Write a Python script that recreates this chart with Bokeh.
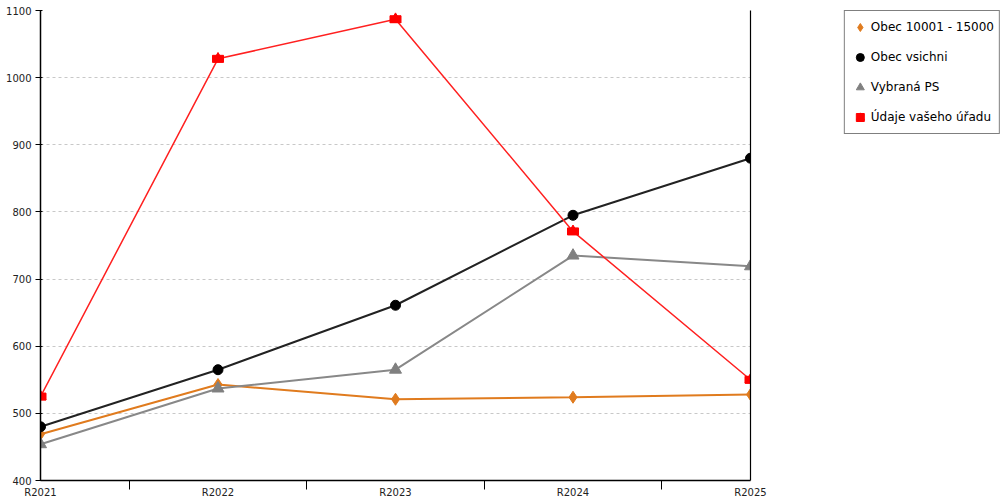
from bokeh.plotting import figure
from bokeh.layouts import row
from bokeh.models import (FixedTicker, LinearAxis, Legend, LegendItem, ColumnDataSource, Range1d)
from bokeh.embed import file_html
from bokeh.resources import INLINE

categories = ["R2021", "R2022", "R2023", "R2024", "R2025"]
obec_10001_15000 = [469, 543, 521, 524, 528]
obec_vsichni = [480, 565, 661, 795, 880]
vybrana_ps = [454, 537, 565, 735, 719]
udaje_uradu = [525, 1028, 1087, 771, 550]
y_ticks = [400, 500, 600, 700, 800, 900, 1000, 1100]
labels = ["Obec 10001 - 15000", "Obec vsichni", "Vybraná PS", "Údaje vašeho úřadu"]

x = list(range(len(categories)))

p = figure(width=770, height=500, output_backend="svg", toolbar_location=None,
           x_range=Range1d(0, len(categories) - 1), y_range=Range1d(400, 1100),
           min_border_left=40, min_border_top=10, min_border_bottom=20, min_border_right=20)
p.outline_line_color = None
p.background_fill_color = "white"
p.border_fill_color = "white"

p.xgrid.grid_line_color = None
p.ygrid.grid_line_color = "#c8c8c8"
p.ygrid.grid_line_dash = "3 3"
p.ygrid.grid_line_width = 1

p.xaxis.ticker = FixedTicker(ticks=x, minor_ticks=[i + 0.5 for i in x[:-1]])
p.xaxis.major_label_overrides = {i: c for i, c in enumerate(categories)}
p.xaxis.major_tick_out = 0
p.xaxis.major_tick_in = 0
p.xaxis.minor_tick_out = 9
p.xaxis.minor_tick_in = 0
p.xaxis.minor_tick_line_color = "black"
p.xaxis.major_label_standoff = -3
p.xaxis.axis_line_color = "black"
p.xaxis.axis_line_width = 1.5

p.yaxis.ticker = FixedTicker(ticks=y_ticks)
p.yaxis.major_tick_out = 5
p.yaxis.major_tick_in = 2
p.yaxis.minor_tick_line_color = None
p.yaxis.major_label_standoff = 4
p.yaxis.axis_line_color = "black"
p.yaxis.axis_line_width = 1.5

for ax in (p.xaxis[0], p.yaxis[0]):
    ax.major_label_text_font = "DejaVu Sans"
    ax.major_label_text_font_size = "10px"
    ax.major_label_text_color = "#222222"

right_axis = LinearAxis(major_tick_out=0, major_tick_in=0, minor_tick_out=0, minor_tick_in=0,
                        major_label_text_font_size="0px", axis_line_color="black",
                        axis_line_width=1.2, ticker=FixedTicker(ticks=[]))
p.add_layout(right_axis, "right")

src = ColumnDataSource(dict(x=x, a=obec_10001_15000, b=obec_vsichni, c=vybrana_ps, d=udaje_uradu))

styles = [
    ("a", "#e07b1e", 2, [("diamond", 12)]),
    ("b", "#222222", 2, [("circle", 10)]),
    ("c", "#888888", 2, [("triangle", 12)]),
    ("d", "#ff2020", 1.5, [("square", 9), ("triangle", 11)]),
]
marker_fill = {"a": "#e07b1e", "b": "black", "c": "#808080", "d": "red"}

for col, color, lw, markers in styles:
    p.line("x", col, source=src, line_color=color, line_width=lw)
    if col == "d":
        # house-shaped marker: flat body plus roof
        p.rect("x", col, source=src, width=11, height=7, width_units="screen", height_units="screen",
               fill_color="red", line_color="red")
        p.scatter("x", col, source=src, marker="triangle", size=11, fill_color="red", line_color="red")
    else:
        for m, s in markers:
            p.scatter("x", col, source=src, marker=m, size=s,
                      fill_color=marker_fill[col], line_color=marker_fill[col])

# legend panel as a separate figure
q = figure(width=230, height=500, output_backend="svg", toolbar_location=None, title=None,
           x_axis_location=None, y_axis_location=None,
           x_range=Range1d(0, 1), y_range=Range1d(0, 1), min_border=0,
           min_border_left=0, min_border_right=0, min_border_top=0, min_border_bottom=0)
q.grid.visible = False
q.outline_line_color = None

hidden = ColumnDataSource(dict(x=[-10], y=[-10]))
items = []
for (col, color, lw, markers), lab in zip(styles, labels):
    rs = []
    for m, s in markers:
        rs.append(q.scatter("x", "y", source=hidden, marker=m, size=s,
                            fill_color=marker_fill[col], line_color=marker_fill[col]))
    items.append(LegendItem(label=lab, renderers=rs, index=0))

legend = Legend(items=items, location="top_right")
legend.label_text_font = "DejaVu Sans"
legend.label_text_font_size = "12px"
legend.label_text_color = "black"
legend.border_line_color = "black"
legend.border_line_width = 1
legend.glyph_width = 20
legend.glyph_height = 22
legend.label_standoff = 1
legend.label_height = 22
legend.spacing = 8
legend.padding = 5
legend.margin = 0
legend.background_fill_color = "white"
q.add_layout(legend, "center")

layout = row(p, q)
open("out.html", "w").write(file_html(layout, INLINE))
